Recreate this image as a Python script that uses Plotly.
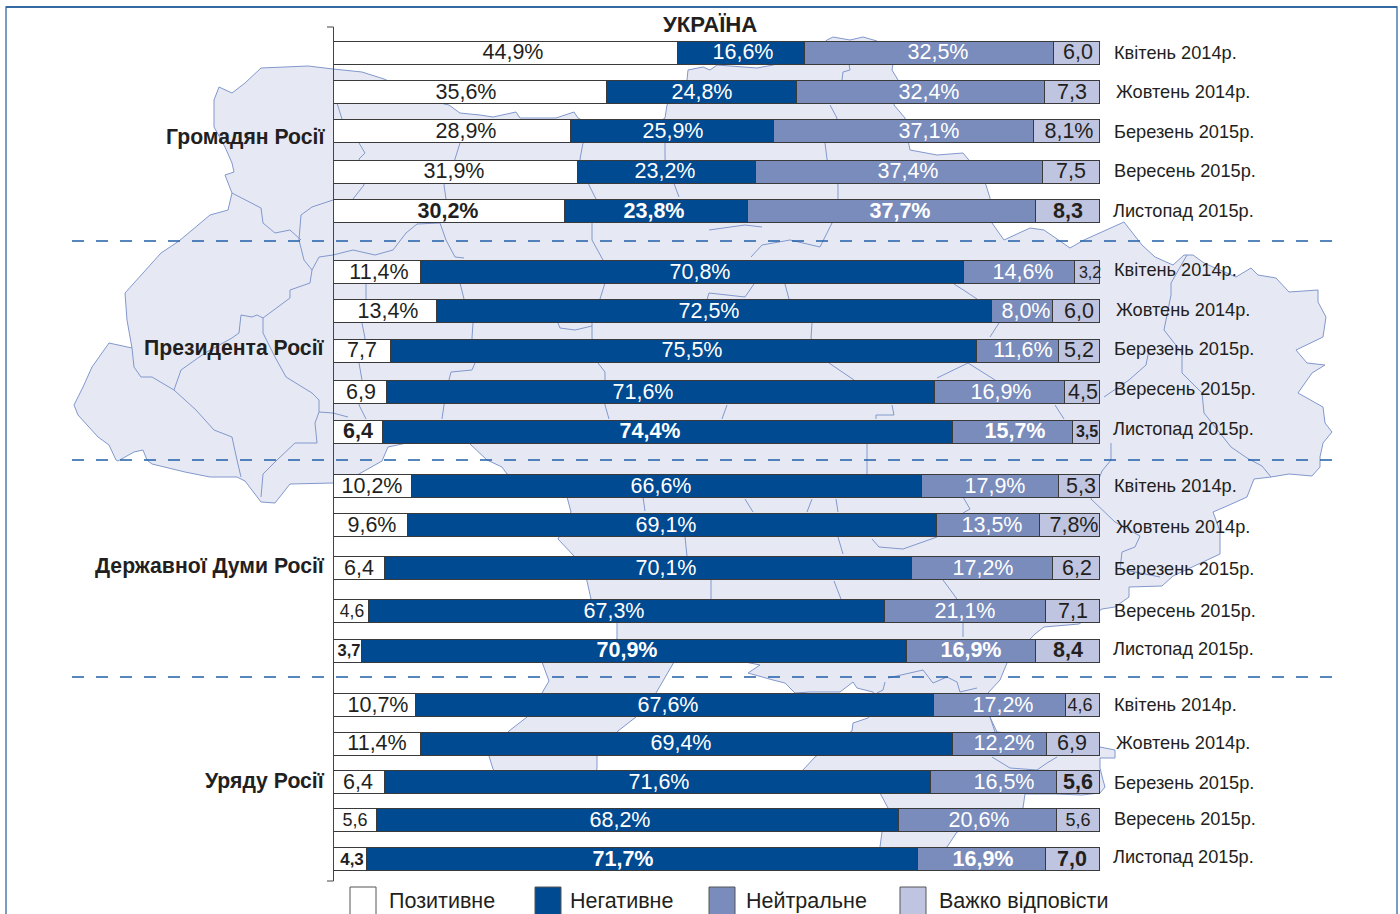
import plotly.graph_objects as go

# ---------- data ----------
TITLE = "УКРАЇНА"
GROUPS = ["Громадян Росії", "Президента Росії", "Державної Думи Росії", "Уряду Росії"]
MONTHS = ["Квітень 2014р.", "Жовтень 2014р.", "Березень 2015р.", "Вересень 2015р.", "Листопад 2015р."]
SERIES = ["Позитивне", "Негативне", "Нейтральне", "Важко відповісти"]

# segment lengths (a few differ from the printed figures below)
positive = [44.9, 35.6, 30.9, 31.9, 30.2, 11.4, 13.4, 7.5, 6.9, 6.4, 10.2, 9.6, 6.7, 4.6, 3.7, 10.7, 11.4, 6.6, 5.6, 4.3]
negative = [16.6, 24.8, 26.6, 23.2, 23.8, 70.8, 72.5, 76.4, 71.6, 74.4, 66.6, 69.1, 68.8, 67.3, 71.1, 67.6, 69.4, 71.4, 68.2, 71.9]
neutral = [32.5, 32.4, 33.9, 37.4, 37.7, 14.6, 8.0, 10.8, 16.9, 15.7, 17.9, 13.5, 18.4, 21.1, 16.8, 17.2, 12.3, 16.4, 20.6, 16.8]
hard = [6.0, 7.2, 8.6, 7.5, 8.3, 3.2, 6.1, 5.3, 4.6, 3.5, 5.3, 7.8, 6.1, 7.0, 8.4, 4.5, 6.9, 5.6, 5.6, 7.0]

# printed figures
positive_text = ["44,9%", "35,6%", "28,9%", "31,9%", "30,2%", "11,4%", "13,4%", "7,7", "6,9", "6,4", "10,2%", "9,6%", "6,4", "4,6", "3,7", "10,7%", "11,4%", "6,4", "5,6", "4,3"]
negative_text = ["16,6%", "24,8%", "25,9%", "23,2%", "23,8%", "70,8%", "72,5%", "75,5%", "71,6%", "74,4%", "66,6%", "69,1%", "70,1%", "67,3%", "70,9%", "67,6%", "69,4%", "71,6%", "68,2%", "71,7%"]
neutral_text = ["32,5%", "32,4%", "37,1%", "37,4%", "37,7%", "14,6%", "8,0%", "11,6%", "16,9%", "15,7%", "17,9%", "13,5%", "17,2%", "21,1%", "16,9%", "17,2%", "12,2%", "16,5%", "20,6%", "16,9%"]
hard_text = ["6,0", "7,3", "8,1%", "7,5", "8,3", "3,2", "6,0", "5,2", "4,5", "3,5", "5,3", "7,8%", "6,2", "7,1", "8,4", "4,6", "6,9", "5,6", "5,6", "7,0"]

# ---------- layout (pixel layout of the page) ----------
W, H = 1400, 914
ROW_Y = [53, 92.2, 131.2, 172, 211.5, 272.5, 311.5, 351, 392.5, 432, 486.5, 525.5, 568.5, 611.5, 651, 705.5, 744, 782.5, 820.5, 859.5]
TEXT_DY = 1
MONTH_Y = [53, 92, 132, 171, 211, 270, 310, 349, 389, 429, 486, 527, 569, 611, 649, 705, 743, 783, 819, 857]
MONTH_X = [1112, 1114, 1112, 1112, 1111]
GROUP_Y = [137, 348, 566, 781]
BAR_X0, BAR_X1 = 334, 1100
U = (BAR_X1 - BAR_X0) / 100.0
# horizontal centres of the printed figures
LABEL_X = [
    [513, 466, 466, 454, 448, 379, 388, 362, 361, 358, 372, 372, 359, 352, 349, 378, 377, 358, 355, 352],
    [743, 702, 673, 665, 654, 700, 709, 692, 643, 650, 661, 666, 666, 614, 627, 668, 681, 659, 620, 623],
    [938, 929, 929, 908, 900, 1023, 1026, 1023, 1001, 1015, 995, 992, 983, 965, 971, 1003, 1004, 1004, 979, 983],
    [1078, 1072, 1069, 1071, 1068, 1090, 1079, 1079, 1083, 1087, 1081, 1074, 1077, 1073, 1068, 1080, 1072, 1078, 1078, 1072],
]
BOLD_ROWS = {4, 9, 14, 19}
SMALL = {(0, 13): 17.5, (0, 14): 16.5, (0, 18): 18, (0, 19): 17, (3, 5): 16, (3, 9): 16, (3, 15): 18, (3, 18): 18}

COL_POS, COL_NEG, COL_NEU, COL_HARD = "#ffffff", "#004a92", "#7a8cbc", "#bfc5e0"
INK = "#231f20"
MAP_FILL, MAP_LINE = "#e6e9f4", "#8298cc"
FONT = "Liberation Sans"

# ---------- background map outline ----------
MAP_OUTLINE = [(261,68),(308,66),(333,69),(362,72),(384,79),(440,103),(449,105),(460,113),(480,115),(493,117),(516,112),(520,118),(556,118),(574,112),(578,118),(600,130),(650,128),(665,118),(667,105),(687,80),(688,70),(703,67),(710,70),(717,65),(757,68),(773,65),(810,55),(827,40),(833,37),(850,40),(863,37),(877,41),(893,64),(892,70),(898,80),(894,105),(905,118),(908,140),(910,150),(937,155),(963,153),(968,159),(980,175),(986,185),(990,198),(992,223),(1004,240),(1030,228),(1044,230),(1070,248),(1084,240),(1124,222),(1142,245),(1155,257),(1173,265),(1184,255),(1193,255),(1204,263),(1236,277),(1251,268),(1258,275),(1276,278),(1289,292),(1318,290),(1318,302),(1326,317),(1323,337),(1296,350),(1307,363),(1325,365),(1312,373),(1298,393),(1323,407),(1325,423),(1332,432),(1323,443),(1320,457),(1320,467),(1312,476),(1289,474),(1271,477),(1254,479),(1247,497),(1227,506),(1213,512),(1220,531),(1220,554),(1173,576),(1162,586),(1129,587),(1129,597),(1115,607),(1102,609),(1079,624),(1044,627),(1035,634),(1007,663),(1000,680),(988,693),(990,717),(997,732),(1030,735),(1100,747),(1115,750),(1115,758),(1100,758),(1100,768),(1103,780),(1105,787),(1100,793),(1082,795),(1055,794),(1025,794),(1023,808),(957,832),(947,847),(905,868),(880,847),(882,832),(888,808),(880,793),(840,785),(803,770),(815,757),(852,731),(853,723),(868,718),(880,705),(873,692),(857,688),(853,682),(840,692),(810,692),(795,693),(785,683),(773,680),(748,673),(760,665),(745,662),(674,662),(667,674),(656,693),(636,717),(618,731),(597,756),(597,769),(585,790),(510,790),(493,769),(489,756),(509,731),(527,717),(542,693),(549,681),(542,662),(600,645),(617,639),(617,622),(591,599),(587,581),(574,556),(558,539),(571,512),(567,497),(507,474),(502,467),(487,460),(469,443),(430,438),(388,447),(382,461),(359,474),(345,480),(333,483),(290,484),(275,503),(261,502),(245,481),(237,477),(210,477),(185,472),(152,464),(147,460),(143,450),(134,452),(118,461),(116,460),(109,445),(98,437),(78,415),(74,405),(83,387),(92,367),(109,343),(132,348),(127,320),(125,293),(161,253),(179,241),(210,215),(228,210),(232,193),(225,175),(234,172),(232,163),(225,147),(214,127),(214,100),(219,87),(232,93),(245,83)]
MAP_BORDERS = [
    [(232,193),(261,208),(263,223),(275,233),(290,230),(301,240)],
    [(333,200),(312,207),(301,215),(299,240),(304,260),(312,270),(319,257),(333,255),(353,250),(375,255),(393,250),(406,233),(417,224),(440,223),(446,240),(455,257),(464,258)],
    [(312,270),(310,283),(290,290),(290,298),(263,318),(257,315),(252,317),(241,315),(239,333),(232,338)],
    [(263,318),(263,333),(275,357),(286,377),(312,393),(319,400),(319,412),(315,423),(317,443),(295,443),(277,460),(263,474),(261,497)],
    [(132,348),(134,367),(141,377),(152,377),(174,390),(196,410),(214,430),(232,437),(237,460),(241,477)],
    [(174,390),(181,370),(205,353),(232,338)],
    [(319,412),(333,413),(348,417)],
    [(337,103),(342,119),(359,143),(365,153),(359,159),(364,185),(353,199)],
    [(366,283),(366,299),(362,323),(365,338),(359,363),(362,380),(359,405),(366,419)],
    [(460,143),(455,159),(444,185),(446,199)],
    [(460,283),(464,299),(473,323),(472,338),(475,363),(472,370),(451,372),(449,380),(444,405),(442,419)],
    [(583,143),(580,159),(589,185),(596,199),(592,223),(592,240),(603,260),(605,283),(600,299),(592,323),(592,338),(598,363),(605,372),(605,380),(605,405),(609,419)],
    [(558,323),(560,328),(575,330),(592,326)],
    [(665,143),(665,159),(679,197)],
    [(842,80),(843,72),(850,70),(849,64)],
    [(830,105),(837,118),(825,143),(827,159),(838,185),(838,199),(832,223),(820,247),(790,240),(762,245),(751,257)],
    [(762,227),(745,225),(709,230)],
    [(754,284),(745,297),(709,293),(700,323)],
    [(785,284),(789,299),(812,323),(811,338),(829,363),(854,380)],
    [(968,363),(937,378)],[(968,363),(995,380)],
    [(954,284),(968,293),(977,299),(999,323),(990,337)],
    [(727,405),(722,419)],[(892,405),(894,415),(876,415),(876,419)],
    [(1055,405),(1064,419)],
    [(1111,443),(1111,460),(1102,471),(1091,499),(1115,522),(1140,536),(1135,547),(1122,552),(1120,569),(1160,577)],
    [(1187,255),(1171,283),(1171,295),(1164,330),(1182,353),(1182,373),(1202,393),(1204,413),(1231,447),(1247,458),(1262,466),(1271,477)],
    [(1149,350),(1146,365),(1129,380),(1104,397)],
    [(867,443),(867,474)],[(836,499),(838,512)],[(812,499),(807,512)],[(745,499),(753,512)],
    [(963,497),(970,509),(963,513)],
    [(838,537),(843,554)],[(872,539),(879,547),(903,549),(937,537)],
    [(943,580),(957,599)],[(834,581),(841,599)],[(711,580),(711,599)],[(963,622),(963,637)],
    [(643,497),(645,511)],[(685,537),(687,556)],
    [(885,682),(883,690),(877,693)],[(888,678),(923,670),(933,683),(947,677),(957,682),(960,692),(977,688)],
    [(990,717),(995,732)],[(992,757),(1010,768),(1037,770),(1047,763),(1057,757)],
]

def px(x):
    return x / W

def path(points, closed=False):
    d = "M " + " L ".join(f"{px(x):.5f},{y}" for x, y in points)
    return d + (" Z" if closed else "")

# ---------- bars ----------
fig = go.Figure()
series_rows = [
    (SERIES[0], positive, positive_text, COL_POS, INK),
    (SERIES[1], negative, negative_text, COL_NEG, "#ffffff"),
    (SERIES[2], neutral, neutral_text, COL_NEU, "#ffffff"),
    (SERIES[3], hard, hard_text, COL_HARD, INK),
]
for name, vals, labels, col, tcol in series_rows:
    fig.add_trace(go.Bar(
        name=name, y=ROW_Y, x=vals, orientation="h", width=23,
        marker=dict(color=col, line=dict(color="#3a3a3a", width=1)),
        hoverinfo="skip", showlegend=False,
    ))
for s, (name, vals, labels, col, tcol) in enumerate(series_rows):
    texts, sizes = [], []
    for r, lab in enumerate(labels):
        bold = r in BOLD_ROWS or (s == 3 and r == 17)
        texts.append(f"<b>{lab}</b>" if bold else lab)
        sizes.append(SMALL.get((s, r), 21.5))
    fig.add_trace(go.Scatter(
        x=[(p - BAR_X0) / U for p in LABEL_X[s]], y=[v + TEXT_DY for v in ROW_Y], mode="text", text=texts,
        textposition="middle center", cliponaxis=False, hoverinfo="skip", showlegend=False,
        textfont=dict(family=FONT, size=sizes, color=tcol),
    ))

# ---------- shapes ----------
shapes = [
    dict(type="rect", xref="paper", yref="y", x0=px(6), x1=px(1397), y0=7, y1=940,
         line=dict(color="#4f7cb0", width=1.5), fillcolor="rgba(0,0,0,0)", layer="below"),
    dict(type="line", xref="paper", yref="y", x0=px(6), x1=px(1397), y0=7, y1=7,
         line=dict(color="#1d5a9a", width=1.5), layer="below"),
    dict(type="path", xref="paper", yref="y", path=path(MAP_OUTLINE, True),
         fillcolor=MAP_FILL, line=dict(color=MAP_LINE, width=1), layer="below"),
]
for poly in MAP_BORDERS:
    shapes.append(dict(type="path", xref="paper", yref="y", path=path(poly),
                       line=dict(color=MAP_LINE, width=1), layer="below"))
for y in [241, 460, 677]:
    shapes.append(dict(type="line", xref="paper", yref="y", x0=px(72), x1=px(1335), y0=y, y1=y,
                       line=dict(color="#1f5fa6", width=1.5, dash="12px,12px"), layer="below"))
axis_col = "#444444"
shapes.append(dict(type="line", xref="paper", yref="y", x0=px(333.5), x1=px(333.5), y0=27, y1=881, line=dict(color=axis_col, width=1)))
for y in [27, 881]:
    shapes.append(dict(type="line", xref="paper", yref="y", x0=px(327), x1=px(333.5), y0=y, y1=y, line=dict(color=axis_col, width=1)))

LEGEND_BOX_X = [350, 535, 709, 900]
LEGEND_TEXT_X = [387, 568, 744, 937]
for x0, col in zip(LEGEND_BOX_X, [COL_POS, COL_NEG, COL_NEU, COL_HARD]):
    shapes.append(dict(type="rect", xref="paper", yref="y", x0=px(x0), x1=px(x0 + 26), y0=887, y1=916,
                       fillcolor=col, line=dict(color="#555555", width=1)))

# ---------- texts ----------
ann = [dict(text=f"<b>{TITLE}</b>", x=px(710), y=24, xref="paper", yref="y", xanchor="center", yanchor="middle",
            showarrow=False, font=dict(family=FONT, size=22.2, color=INK))]
for g, y in zip(GROUPS, GROUP_Y):
    ann.append(dict(text=f"<b>{g}</b>", x=px(327), y=y, xref="paper", yref="y", xanchor="right", yanchor="middle",
                    showarrow=False, font=dict(family=FONT, size=21.2, color=INK)))
for i, y in enumerate(MONTH_Y):
    ann.append(dict(text=MONTHS[i % 5], x=px(MONTH_X[i % 5]), y=y, xref="paper", yref="y", xanchor="left", yanchor="middle",
                    showarrow=False, font=dict(family=FONT, size=18.2, color=INK)))
for name, x in zip(SERIES, LEGEND_TEXT_X):
    ann.append(dict(text=name, x=px(x), y=901, xref="paper", yref="y", xanchor="left", yanchor="middle",
                    showarrow=False, font=dict(family=FONT, size=21.5, color=INK)))

fig.update_layout(
    width=W, height=H, margin=dict(l=0, r=0, t=0, b=0), autosize=False,
    paper_bgcolor="white", plot_bgcolor="rgba(0,0,0,0)",
    barmode="stack", bargap=0, showlegend=False,
    xaxis=dict(range=[-BAR_X0 / U, (W - BAR_X0) / U], visible=False, fixedrange=True),
    yaxis=dict(range=[H, 0], visible=False, fixedrange=True),
    shapes=shapes, annotations=ann, font=dict(family=FONT),
)
fig.write_html("out.html", config=dict(displayModeBar=False),
               post_script="document.body.style.margin='0';document.documentElement.style.overflow='hidden';")
